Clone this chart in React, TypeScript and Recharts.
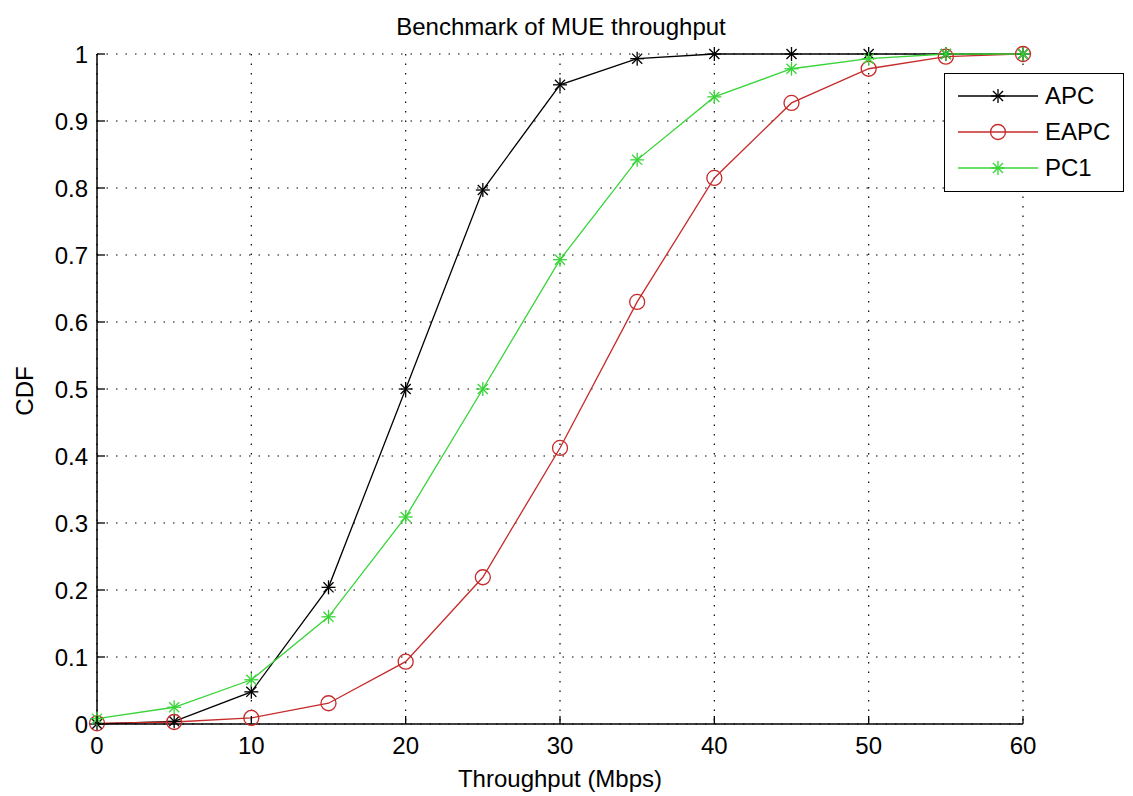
import { CartesianGrid, Legend, Line, LineChart, XAxis, YAxis } from 'recharts'

// Throughput (Mbps) sample points
const THROUGHPUT = [0, 5, 10, 15, 20, 25, 30, 35, 40, 45, 50, 55, 60]
// CDF values
const APC = [0, 0.004, 0.048, 0.204, 0.5, 0.797, 0.954, 0.993, 1, 1, 1, 1, 1]
const EAPC = [0.001, 0.003, 0.009, 0.031, 0.093, 0.219, 0.412, 0.63, 0.815, 0.927, 0.978, 0.996, 1]
const PC1 = [0.008, 0.025, 0.066, 0.16, 0.309, 0.5, 0.693, 0.842, 0.936, 0.978, 0.993, 1, 1]

const X_TICKS = [0, 10, 20, 30, 40, 50, 60]
const Y_TICKS = [0, 0.1, 0.2, 0.3, 0.4, 0.5, 0.6, 0.7, 0.8, 0.9, 1]

const FONT = "'Liberation Sans', Arial, sans-serif"
const TICK_SIZE = 6
const X_TICK_MARGIN = 7
const Y_TICK_MARGIN = 3
const INNER_TICK = 8

type Marker = 'star' | 'circle'
const SERIES: { key: string; name: string; color: string; marker: Marker }[] = [
  { key: 'apc', name: 'APC', color: '#000000', marker: 'star' },
  { key: 'eapc', name: 'EAPC', color: '#c62a2a', marker: 'circle' },
  { key: 'pc1', name: 'PC1', color: '#38d438', marker: 'star' },
]

const rows = THROUGHPUT.map((x, i) => ({ x, apc: APC[i], eapc: EAPC[i], pc1: PC1[i] }))

function MarkerShape({ cx, cy, color, marker }: { cx: number; cy: number; color: string; marker: Marker }) {
  if (marker === 'circle') {
    return <circle cx={cx} cy={cy} r={7.5} fill="none" stroke={color} strokeWidth={1.3} />
  }
  const r = 7
  const d = r * 0.72
  return (
    <g stroke={color} strokeWidth={1.3}>
      <line x1={cx - r} x2={cx + r} y1={cy} y2={cy} />
      <line x1={cx} x2={cx} y1={cy - r} y2={cy + r} />
      <line x1={cx - d} x2={cx + d} y1={cy - d} y2={cy + d} />
      <line x1={cx - d} x2={cx + d} y1={cy + d} y2={cy - d} />
    </g>
  )
}

// MATLAB-style ticks: label outside, short tick mark pointing into the plot
function BottomTick(props: any) {
  const { x, y, payload } = props
  const axisY = y - TICK_SIZE - X_TICK_MARGIN
  return (
    <g>
      <line x1={x} x2={x} y1={axisY} y2={axisY - INNER_TICK} stroke="#000" strokeWidth={1.3} />
      <text x={x} y={y} dy="0.71em" textAnchor="middle" fontFamily={FONT} fontSize={24} fill="#000">
        {payload.value}
      </text>
    </g>
  )
}

function LeftTick(props: any) {
  const { x, y, payload } = props
  const axisX = x + TICK_SIZE + Y_TICK_MARGIN
  const v = payload.value
  const label = v === 0 || v === 1 ? String(v) : v.toFixed(1)
  return (
    <g>
      <line x1={axisX} x2={axisX + INNER_TICK} y1={y} y2={y} stroke="#000" strokeWidth={1.3} />
      <text x={x} y={y} dy="0.355em" textAnchor="end" fontFamily={FONT} fontSize={24} fill="#000">
        {label}
      </text>
    </g>
  )
}

function TopTick(props: any) {
  const { x, y } = props
  return <line x1={x} x2={x} y1={y} y2={y + INNER_TICK} stroke="#000" strokeWidth={1.3} />
}

function RightTick(props: any) {
  const { x, y } = props
  return <line x1={x} x2={x - INNER_TICK} y1={y} y2={y} stroke="#000" strokeWidth={1.3} />
}

function LegendBox() {
  return (
    <div
      style={{
        width: 180,
        height: 119,
        boxSizing: 'border-box',
        border: '1.5px solid #000',
        background: '#fff',
        paddingTop: 4,
        fontFamily: FONT,
        fontSize: 24,
      }}
    >
      {SERIES.map((s) => (
        <div key={s.key} style={{ display: 'flex', alignItems: 'center', height: 36 }}>
          <svg width={94} height={36} style={{ flex: 'none' }}>
            <line x1={13} x2={93} y1={18} y2={18} stroke={s.color} strokeWidth={1.3} />
            <MarkerShape cx={53} cy={18} color={s.color} marker={s.marker} />
          </svg>
          <span style={{ marginLeft: 6, lineHeight: '24px' }}>{s.name}</span>
        </div>
      ))}
    </div>
  )
}

export default function App() {
  return (
    <div style={{ position: 'absolute', left: 0, top: 0, width: 1133, height: 796, background: '#fff', fontFamily: FONT }}>
      <div
        style={{
          position: 'absolute',
          left: 0,
          width: 1122,
          top: 15,
          textAlign: 'center',
          fontSize: 24,
          lineHeight: '24px',
        }}
      >
        Benchmark of MUE throughput
      </div>
      <div
        style={{
          position: 'absolute',
          left: 25,
          top: 391,
          transform: 'translate(-50%, -50%) rotate(-90deg)',
          fontSize: 24,
          lineHeight: '24px',
          whiteSpace: 'nowrap',
        }}
      >
        CDF
      </div>
      <LineChart width={1133} height={796} data={rows} margin={{ top: 54, right: 110, bottom: 0, left: 37 }}>
        <CartesianGrid stroke="#000" strokeWidth={1.2} strokeDasharray="1.5 8" />
        <XAxis
          dataKey="x"
          type="number"
          domain={[0, 60]}
          ticks={X_TICKS}
          height={72}
          tickSize={TICK_SIZE}
          tickMargin={X_TICK_MARGIN}
          tickLine={false}
          tick={BottomTick}
          axisLine={{ stroke: '#000', strokeWidth: 1.5 }}
          label={{ value: 'Throughput (Mbps)', position: 'insideBottom', offset: 9, fontSize: 24, fill: '#000', fontFamily: FONT }}
        />
        <XAxis
          xAxisId="top"
          orientation="top"
          dataKey="x"
          type="number"
          domain={[0, 60]}
          ticks={X_TICKS}
          height={0}
          tickSize={0}
          tickMargin={0}
          tickLine={false}
          tick={TopTick}
          axisLine={{ stroke: '#000', strokeWidth: 1.5 }}
        />
        <YAxis
          type="number"
          domain={[0, 1]}
          ticks={Y_TICKS}
          width={60}
          tickSize={TICK_SIZE}
          tickMargin={Y_TICK_MARGIN}
          tickLine={false}
          tick={LeftTick}
          axisLine={{ stroke: '#000', strokeWidth: 1.5 }}
        />
        <YAxis
          yAxisId="right"
          orientation="right"
          type="number"
          domain={[0, 1]}
          ticks={Y_TICKS}
          width={0}
          tickSize={0}
          tickMargin={0}
          tickLine={false}
          tick={RightTick}
          axisLine={{ stroke: '#000', strokeWidth: 1.5 }}
        />
        {SERIES.map((s) => (
          <Line
            key={s.key}
            dataKey={s.key}
            name={s.name}
            type="linear"
            stroke={s.color}
            strokeWidth={1.3}
            isAnimationActive={false}
            dot={(p: any) => <MarkerShape key={`${s.key}-${p.index}`} cx={p.cx} cy={p.cy} color={s.color} marker={s.marker} />}
            activeDot={false}
          />
        ))}
        <Legend
          layout="vertical"
          align="center"
          verticalAlign="middle"
          wrapperStyle={{ position: 'absolute', left: 944, top: 73, width: 180, height: 119 }}
          content={() => <LegendBox />}
        />
      </LineChart>
    </div>
  )
}
